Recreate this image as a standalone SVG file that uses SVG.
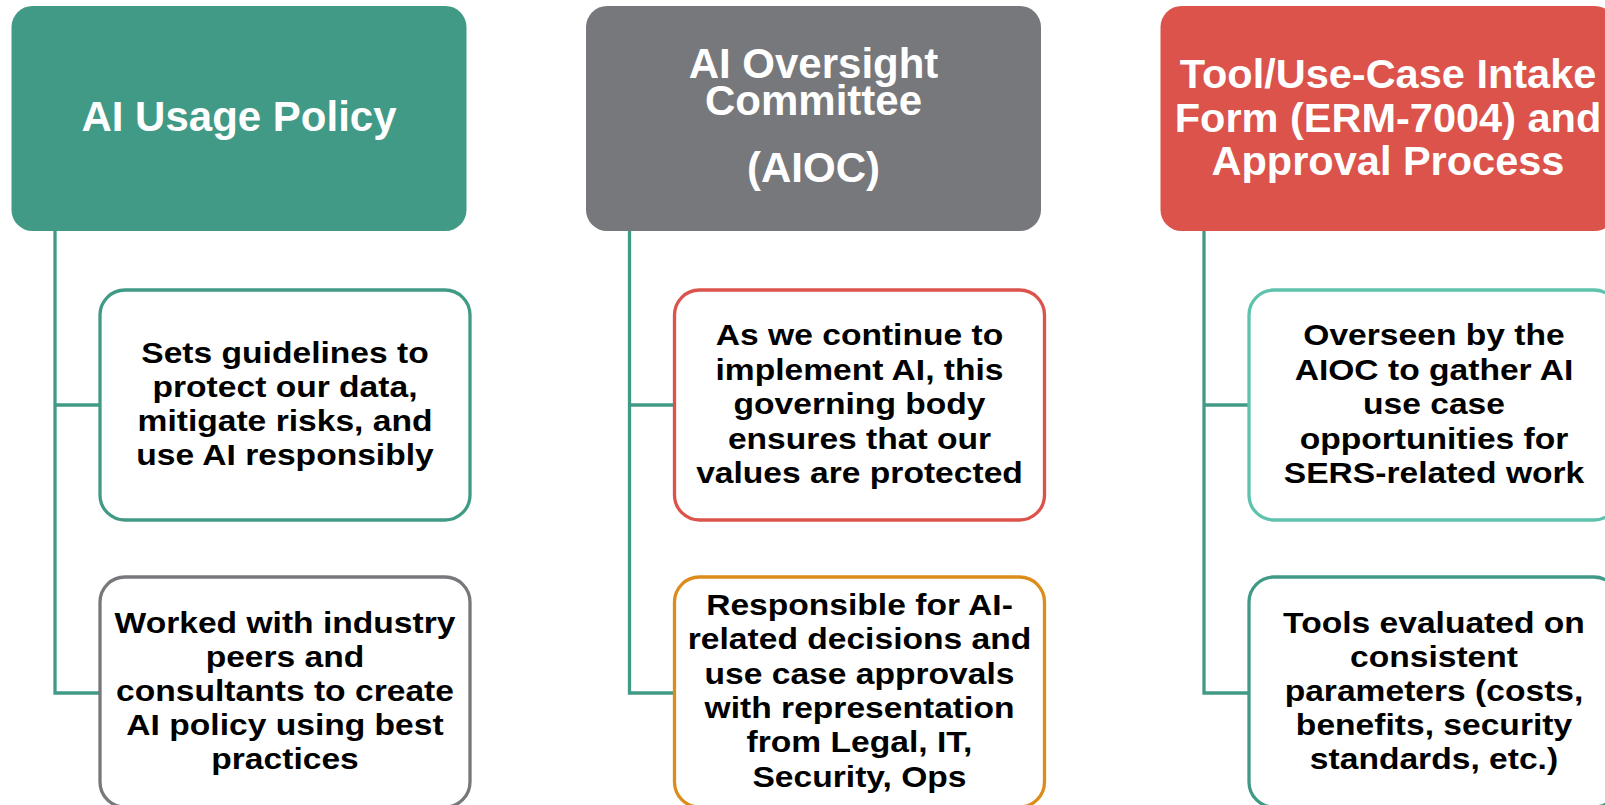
<svg xmlns="http://www.w3.org/2000/svg" width="1605" height="805" viewBox="0 0 1605 805">
<style>
.hdr { stroke: none; }
.hdrtxt { font-family: "Liberation Sans", Arial, sans-serif; font-weight: bold; fill: #ffffff; text-anchor: middle; }
.child { fill: #ffffff; stroke-width: 3.3; }
.ctxt { font-family: "Liberation Sans", Arial, sans-serif; font-weight: bold; font-size: 30px; fill: #000000; text-anchor: middle; }
.conn { fill: none; stroke: #419a86; stroke-width: 3.3; }
</style>
<rect width="1605" height="805" fill="#ffffff"/>

<g id="connectors">
  <path class="conn" d="M55,231 V693 H100 M55,405 H100"/>
  <path class="conn" d="M629.5,231 V693 H674.5 M629.5,405 H674.5"/>
  <path class="conn" d="M1204,231 V693 H1249 M1204,405 H1249"/>
</g>

<g id="hdr-policy">
  <rect class="hdr" x="11.5" y="6" width="455" height="225" rx="21" fill="#419a86"/>
  <text class="hdrtxt" x="239" y="131" font-size="42">AI Usage Policy</text>
</g>
<g id="hdr-aioc">
  <rect class="hdr" x="586" y="6" width="455" height="225" rx="21" fill="#77787b"/>
  <text class="hdrtxt" font-size="42"><tspan x="813.5" y="78">AI Oversight</tspan></text>
  <text class="hdrtxt" font-size="42"><tspan x="813.5" y="115">Committee</tspan></text>
  <text class="hdrtxt" font-size="42"><tspan x="813.5" y="182">(AIOC)</tspan></text>
</g>
<g id="hdr-intake">
  <rect class="hdr" x="1160.5" y="6" width="455" height="225" rx="21" fill="#db534b"/>
  <text class="hdrtxt" font-size="41.5"><tspan x="1388" y="88">Tool/Use-Case Intake</tspan><tspan x="1388" y="131.5">Form (ERM-7004) and</tspan><tspan x="1388" y="175">Approval Process</tspan></text>
</g>

<g id="box-guidelines">
  <rect class="child" x="100" y="290" width="370" height="230" rx="25" stroke="#419a86"/>
  <g transform="translate(285,0) scale(1.12,1)">
    <text class="ctxt"><tspan x="0" y="363">Sets guidelines to</tspan><tspan x="0" y="397">protect our data,</tspan><tspan x="0" y="431">mitigate risks, and</tspan><tspan x="0" y="465">use AI responsibly</tspan></text>
  </g>
</g>
<g id="box-peers">
  <rect class="child" x="100" y="577" width="370" height="230" rx="25" stroke="#77787b"/>
  <g transform="translate(285,0) scale(1.12,1)">
    <text class="ctxt"><tspan x="0" y="633.5">Worked with industry</tspan><tspan x="0" y="667.5">peers and</tspan><tspan x="0" y="701.5">consultants to create</tspan><tspan x="0" y="735.5">AI policy using best</tspan><tspan x="0" y="769">practices</tspan></text>
  </g>
</g>

<g id="box-governing">
  <rect class="child" x="674.5" y="290" width="370" height="230" rx="25" stroke="#db534b"/>
  <g transform="translate(859.5,0) scale(1.12,1)">
    <text class="ctxt"><tspan x="0" y="345.5">As we continue to</tspan><tspan x="0" y="380">implement AI, this</tspan><tspan x="0" y="414.5">governing body</tspan><tspan x="0" y="449">ensures that our</tspan><tspan x="0" y="483.5">values are protected</tspan></text>
  </g>
</g>
<g id="box-responsible">
  <rect class="child" x="674.5" y="577" width="370" height="230" rx="25" stroke="#dc8c1b"/>
  <g transform="translate(859.5,0) scale(1.12,1)">
    <text class="ctxt"><tspan x="0" y="615">Responsible for AI-</tspan><tspan x="0" y="649.5">related decisions and</tspan><tspan x="0" y="684">use case approvals</tspan><tspan x="0" y="718">with representation</tspan><tspan x="0" y="752.5">from Legal, IT,</tspan><tspan x="0" y="787">Security, Ops</tspan></text>
  </g>
</g>

<g id="box-overseen">
  <rect class="child" x="1249" y="290" width="370" height="230" rx="25" stroke="#5fc2ad"/>
  <g transform="translate(1434,0) scale(1.12,1)">
    <text class="ctxt"><tspan x="0" y="345.5">Overseen by the</tspan><tspan x="0" y="380">AIOC to gather AI</tspan><tspan x="0" y="414.5">use case</tspan><tspan x="0" y="449">opportunities for</tspan><tspan x="0" y="483.5">SERS-related work</tspan></text>
  </g>
</g>
<g id="box-tools">
  <rect class="child" x="1249" y="577" width="370" height="230" rx="25" stroke="#419a86"/>
  <g transform="translate(1434,0) scale(1.12,1)">
    <text class="ctxt"><tspan x="0" y="633.5">Tools evaluated on</tspan><tspan x="0" y="667.5">consistent</tspan><tspan x="0" y="701.5">parameters (costs,</tspan><tspan x="0" y="735.5">benefits, security</tspan><tspan x="0" y="769">standards, etc.)</tspan></text>
  </g>
</g>
</svg>
